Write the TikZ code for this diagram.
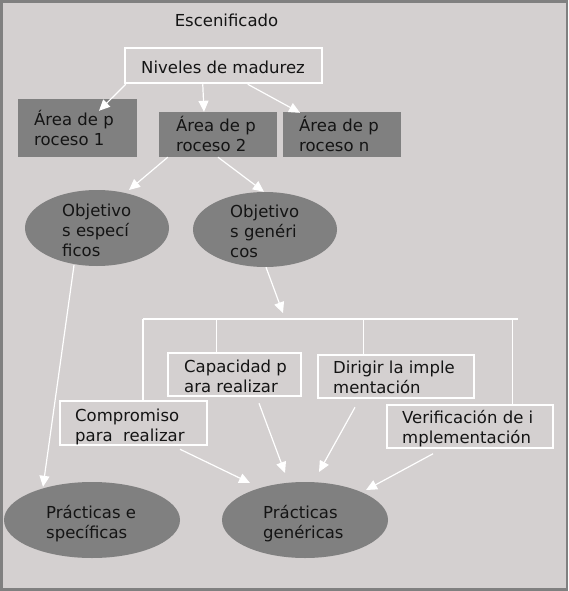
\documentclass[tikz,border=0pt]{standalone}
\usepackage{fontspec}
\setmainfont{DejaVu Sans}
\usetikzlibrary{shapes.geometric,arrows.meta,calc}
\definecolor{bgc}{RGB}{212,208,208}
\definecolor{dk}{RGB}{128,128,128}
\definecolor{txt}{RGB}{20,20,20}
\newcommand\fst{\rule{0pt}{16pt}}
\begin{document}
\begin{tikzpicture}[x=1pt,y=-1pt,
  shade/.style={rectangle,fill=dk,draw=none,inner sep=0pt},
  wbox/.style={rectangle,draw=white,line width=2.5pt,fill=bgc,inner sep=0pt},
  oval/.style={ellipse,fill=dk,draw=none,inner sep=0pt},
  lbl/.style={font=\fontsize{16.5}{20}\selectfont,text=txt,inner sep=0pt,align=left,anchor=north west},
  lbla/.style={font=\fontsize{16.5}{20}\selectfont,text=txt,inner sep=0pt,anchor=base},
  arr/.style={draw=white,line width=1.2pt,-{Triangle[length=11pt,width=10pt]}},
  wline/.style={draw=white,line width=1.2pt}]
\fill[dk] (0,0) rectangle (568,591);
\fill[bgc] (2.5,3) rectangle (565.5,588);
\useasboundingbox (0,0) rectangle (568,591);
% shapes
\node[wbox,minimum width=197pt,minimum height=35pt] (niv) at (223.5,65.5) {};
\node[shade,minimum width=119pt,minimum height=58pt] (a1) at (77.5,128) {};
\node[shade,minimum width=118pt,minimum height=45pt] (a2) at (218,134.5) {};
\node[shade,minimum width=118pt,minimum height=45pt] (an) at (342,134.5) {};
\node[oval,minimum width=144pt,minimum height=76pt] (oe) at (97,228) {};
\node[oval,minimum width=144pt,minimum height=75pt] (og) at (265,229.5) {};
\node[wbox,minimum width=133pt,minimum height=43pt] (cap) at (234.5,374.5) {};
\node[wbox,minimum width=156pt,minimum height=43pt] (dir) at (396,376.5) {};
\node[wbox,minimum width=147pt,minimum height=44pt] (com) at (133.5,423) {};
\node[wbox,minimum width=166pt,minimum height=43pt] (ver) at (470,426.5) {};
\node[oval,minimum width=176pt,minimum height=76pt] (pe) at (92,520) {};
\node[oval,minimum width=166pt,minimum height=76pt] (pg) at (305,520) {};
% bus
\coordinate (busL) at (143,319);
\coordinate (busR) at (518,319);
\coordinate (capT) at ($(cap.north west)+(50,0)$);
\coordinate (dirT) at ($(dir.north west)+(47,0)$);
\coordinate (verT) at ($(ver.north west)+(127,0)$);
\draw[wline] (busL) -- (busR);
\draw[wline] (busL) -- (busL |- com.north);
\draw[wline] (capT |- busL) -- (capT);
\draw[wline] (dirT |- busL) -- (dirT);
\draw[wline] (verT |- busL) -- (verT);
% arrows
\draw[arr] ($(niv.south west)+(2,0)$) -- ($(a1.north)+(21.5,12)$);
\draw[arr] ($(niv.south west)+(79,0)$) -- ($(a2.north)+(-14,0)$);
\draw[arr] ($(niv.south west)+(124,0)$) -- ($(an.north)+(-42,1)$);
\draw[arr] ($(a2.south west)+(9,0)$) -- ($(oe.center)+(32,-38)$);
\draw[arr] (a2.south) -- ($(og.north)+(-1,0)$);
\draw[arr] ($(og.south)+(1,0)$) -- ($(og.south)+(18,46)$);
\draw[arr] ($(oe.south)+(-23,-1)$) -- ($(pe.north)+(-49,5)$);
\draw[arr] ($(com.south)+(46.5,3)$) -- ($(pg.center)+(-55,-37)$);
\draw[arr] ($(cap.south)+(24.5,6)$) -- ($(pg.center)+(-20,-47)$);
\draw[arr] ($(dir.south)+(-41,8)$) -- ($(pg.center)+(14,-48)$);
\draw[arr] ($(ver.south)+(-37,4.5)$) -- ($(pg.center)+(61,-30)$);
% texts
\node[lbla] (tesc) at (226.5,27) {Escenificado};
\node[lbla] (tniv) at (223,74) {Niveles de madurez};
\node[lbl] (ta1) at (34,109) {\fst Área de p\\roceso 1};
\node[lbl] (ta2) at (176,115) {\fst Área de p\\roceso 2};
\node[lbl] (tan) at (299,115) {\fst Área de p\\roceso n};
\node[lbl] (toe) at (62,200) {\fst Objetivo\\s especí\\ficos};
\node[lbl] (tog) at (230,201) {\fst Objetivo\\s genéri\\cos};
\node[lbl] (tcap) at (184,356) {\fst Capacidad p\\ara realizar};
\node[lbl] (tdir) at (333,357) {\fst Dirigir la imple\\mentación};
\node[lbl] (tcom) at (75,405) {\fst Compromiso\\para\ \ realizar};
\node[lbl] (tver) at (402,407) {\fst Verificación de i\\mplementación};
\node[lbl] (tpe) at (46,502) {\fst Prácticas e\\specíficas};
\node[lbl] (tpg) at (263,502) {\fst Prácticas\\genéricas};
\end{tikzpicture}
\end{document}
